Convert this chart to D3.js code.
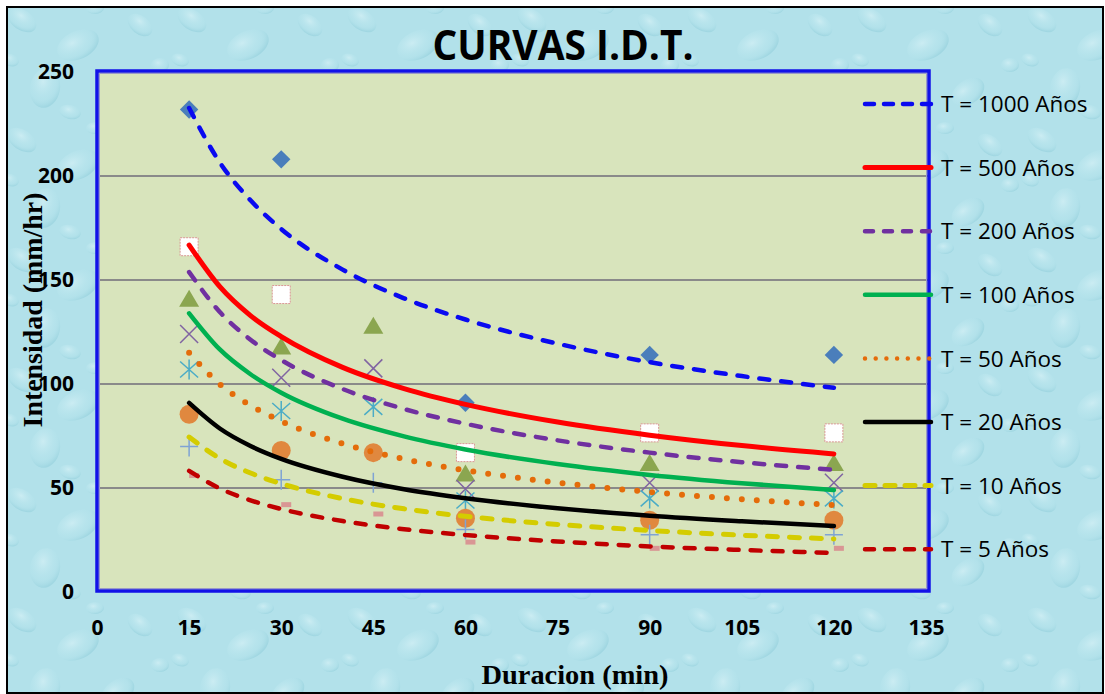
<!DOCTYPE html>
<html>
<head>
<meta charset="utf-8">
<script src="https://cdn.jsdelivr.net/npm/d3@7"></script>
<style>
  body { margin: 0; background: #fff; }
</style>
</head>
<body>
<script>
'use strict';

// measured durations (min)
const duraciones = [15, 30, 45, 60, 90, 120];

// measured intensities (mm/hr), one array per return period
const ptsT1000 = [232, 208, null, 91, 114, 114];
const ptsT500 = [166, 143, null, 67, 76.5, 76.5];
const ptsT200 = [141, 118, 128, 57, 62, 62];
const ptsT100 = [124, 103, 107.5, 49.5, 52.5, 52.5];
const ptsT50 = [107, 87, 89, 44, 45, 45];
const ptsT20 = [85.5, 68, 67, 35.5, 34.5, 34.5];
const ptsT10 = [70, 54, 52.5, 30, 27.5, 27.5];
const ptsT5 = [56, 42, 37.5, 24, 21, 21];

// trendline readings (mm/hr) at these durations
const curvaDur = [15, 20, 25, 30, 40, 50, 60, 75, 90, 105, 120];
const curT1000 = [232.7, 206.5, 188.3, 174.5, 155, 141.2, 131, 119.4, 110.5, 103.8, 98.2];
const curT500 = [166.8, 146.8, 132.9, 122.8, 108, 97.8, 90.2, 81.7, 75.4, 70.4, 66.4];
const curT200 = [153.8, 134.6, 121.3, 111.5, 97.6, 88, 80.9, 72.9, 67, 62.4, 58.7];
const curT100 = [134, 116.6, 104.7, 95.8, 83.3, 74.8, 68.5, 61.5, 56.3, 52.3, 49];
const curT50 = [115, 99.9, 89.7, 82.1, 71.3, 63.9, 58.5, 52.6, 48.1, 44.6, 41.8];
const curT20 = [90.9, 78.6, 70.2, 64, 55.4, 49.4, 45.1, 40.3, 36.7, 34, 31.7];
const curT10 = [74.5, 64.2, 57.2, 52.1, 44.9, 40, 36.4, 32.5, 29.6, 27.3, 25.5];
const curT5 = [58.2, 49.8, 44.1, 39.9, 34.1, 30.2, 27.4, 24.3, 21.9, 20.2, 18.8];

const legendNames = ['T = 1000 Años', 'T = 500 Años', 'T = 200 Años', 'T = 100 Años',
  'T = 50 Años', 'T = 20 Años', 'T = 10 Años', 'T = 5 Años'];
const xTicks = [0, 15, 30, 45, 60, 75, 90, 105, 120, 135];
const yTicks = [0, 50, 100, 150, 200, 250];

(function() {

  let svgContainer = "";

  // line styles for the trendlines
  const lineStyles = [
    { color: '#0a0af0', width: 4.5, dash: '10 12', legDash: '9 10' },
    { color: '#ff0000', width: 5, dash: null, legDash: null },
    { color: '#7030a0', width: 4.5, dash: '10 12', legDash: '8 11' },
    { color: '#00b050', width: 4.5, dash: null, legDash: null },
    { color: '#e46c0a', width: 6, dash: '0 15', legDash: '0 10.7', dot: true },
    { color: '#000000', width: 4.5, dash: null, legDash: null },
    { color: '#d4cc00', width: 5, dash: '10 12', legDash: '10 10' },
    { color: '#c00000', width: 4.5, dash: '10 12', legDash: '9 11' }
  ];

  window.onload = function() {
    svgContainer = d3.select('body')
      .append('svg')
      .attr('width', 1105)
      .attr('height', 694);

    drawBackground();
    let map = drawAxes();
    plotPoints(map);
    plotCurves(map);
    drawLegend();
    makeLabels();
  }

  // water-drop texture behind the chart
  function drawBackground() {
    let defs = svgContainer.append('defs');
    let grad = defs.append('radialGradient')
      .attr('id', 'drop')
      .attr('cx', '40%').attr('cy', '35%').attr('r', '65%');
    grad.append('stop').attr('offset', '0%').attr('stop-color', '#dcf4f8').attr('stop-opacity', 0.6);
    grad.append('stop').attr('offset', '70%').attr('stop-color', '#b8e6ee').attr('stop-opacity', 0.2);
    grad.append('stop').attr('offset', '100%').attr('stop-color', '#8ccbd8').attr('stop-opacity', 0.45);

    let pat = defs.append('pattern')
      .attr('id', 'water')
      .attr('patternUnits', 'userSpaceOnUse')
      .attr('width', 170).attr('height', 120);
    pat.append('rect').attr('width', 170).attr('height', 120).attr('fill', '#b2e1ea');
    const drops = [[22, 20, 16, 10, 35], [78, 45, 22, 14, -25], [140, 25, 14, 9, 40],
      [45, 88, 15, 20, 10], [118, 92, 18, 12, -35], [160, 65, 9, 7, 0], [10, 60, 9, 6, 20],
      [95, 8, 9, 6, 0], [70, 112, 11, 7, 15]];
    drops.forEach(function(d) {
      pat.append('ellipse')
        .attr('cx', d[0]).attr('cy', d[1]).attr('rx', d[2]).attr('ry', d[3])
        .attr('transform', 'rotate(' + d[4] + ',' + d[0] + ',' + d[1] + ')')
        .attr('fill', 'url(#drop)');
    });

    svgContainer.append('rect')
      .attr('x', 7).attr('y', 7)
      .attr('width', 1096).attr('height', 686)
      .attr('fill', 'url(#water)')
      .attr('stroke', '#000')
      .attr('stroke-width', 2);
  }

  // plot area, grid and ticks
  function drawAxes() {
    let xScale = d3.scaleLinear().domain([0, 135]).range([97, 926]);
    let yScale = d3.scaleLinear().domain([0, 250]).range([592, 72]);

    svgContainer.append('rect')
      .attr('x', 97).attr('y', 71)
      .attr('width', 832).attr('height', 520)
      .attr('fill', '#d8e4bc');

    svgContainer.append('g')
      .selectAll('line')
      .data(yTicks.filter(v => v > 0 && v < 250))
      .enter()
      .append('line')
      .attr('x1', 99).attr('x2', 928)
      .attr('y1', d => yScale(d)).attr('y2', d => yScale(d))
      .attr('stroke', '#8a8a8a')
      .attr('stroke-width', 2);

    // border of the plot area
    svgContainer.append('rect')
      .attr('x', 97).attr('y', 71)
      .attr('width', 832).attr('height', 520)
      .attr('fill', 'none')
      .attr('stroke', '#1212e8')
      .attr('stroke-width', 3.5);
    svgContainer.append('rect')
      .attr('x', 99.5).attr('y', 73.5)
      .attr('width', 827).attr('height', 515)
      .attr('fill', 'none')
      .attr('stroke', '#9a9ac8')
      .attr('stroke-width', 1);

    let xAxis = d3.axisBottom(xScale).tickValues(xTicks).tickSize(0).tickPadding(0);
    let gx = svgContainer.append('g')
      .attr('transform', 'translate(0, 628)')
      .call(xAxis);
    gx.select('.domain').remove();
    gx.selectAll('text')
      .attr('dy', '0.35em')
      .style('font-family', '"Open Sans", sans-serif')
      .style('font-weight', 'bold')
      .style('font-size', '21px')
      .attr('fill', '#000');

    let yAxis = d3.axisLeft(yScale).tickValues(yTicks).tickSize(0).tickPadding(0);
    let gy = svgContainer.append('g')
      .attr('transform', 'translate(74, 0)')
      .call(yAxis);
    gy.select('.domain').remove();
    gy.selectAll('text')
      .style('font-family', '"Open Sans", sans-serif')
      .style('font-weight', 'bold')
      .style('font-size', '21px')
      .attr('fill', '#000');

    return { x: xScale, y: yScale };
  }

  // measured points with Excel-like markers
  function plotPoints(map) {
    const series = [
      { values: ptsT1000, shape: 'diamond' },
      { values: ptsT500, shape: 'square' },
      { values: ptsT200, shape: 'triangle' },
      { values: ptsT100, shape: 'x' },
      { values: ptsT50, shape: 'star' },
      { values: ptsT20, shape: 'circle' },
      { values: ptsT10, shape: 'plus' },
      { values: ptsT5, shape: 'dash' }
    ];

    series.forEach(function(s) {
      let pts = duraciones.map((d, i) => ({ d: d, v: s.values[i] }))
        .filter(p => p.v !== null);
      let g = svgContainer.append('g');
      let marks = g.selectAll('g')
        .data(pts)
        .enter()
        .append('g')
        .attr('transform', p => 'translate(' + map.x(p.d) + ',' + map.y(p.v) + ')');

      if (s.shape == 'diamond') {
        marks.append('path')
          .attr('d', d3.symbol(d3.symbolSquare, 170)())
          .attr('transform', 'rotate(45)')
          .attr('fill', '#4a7ebb');
      } else if (s.shape == 'square') {
        marks.append('rect')
          .attr('x', -9).attr('y', -9).attr('width', 18).attr('height', 18)
          .attr('fill', '#fff')
          .attr('stroke', '#d99694')
          .attr('stroke-dasharray', '2 1')
          .attr('stroke-width', 1);
      } else if (s.shape == 'triangle') {
        marks.append('path')
          .attr('d', 'M0,-9L10,8L-10,8Z')
          .attr('fill', '#8ba650');
      } else if (s.shape == 'x') {
        marks.append('path')
          .attr('d', 'M-9,-9L9,9M-9,9L9,-9')
          .attr('stroke', '#8064a2')
          .attr('stroke-width', 1.5);
      } else if (s.shape == 'star') {
        marks.append('path')
          .attr('d', 'M-9,-8L9,8M-9,8L9,-8M0,-10L0,10')
          .attr('stroke', '#4bacc6')
          .attr('stroke-width', 1.5);
      } else if (s.shape == 'circle') {
        marks.append('circle')
          .attr('r', 9.5)
          .attr('fill', '#e0883f');
      } else if (s.shape == 'plus') {
        marks.append('path')
          .attr('d', 'M-9,0L9,0M0,-10L0,10')
          .attr('stroke', '#7fa3d4')
          .attr('stroke-width', 1.5);
      } else {
        marks.append('rect')
          .attr('x', 0).attr('y', -2.5).attr('width', 10).attr('height', 5)
          .attr('fill', '#d99694');
      }
    });
  }

  // fitted curves on top of the points
  function plotCurves(map) {
    const curves = [curT1000, curT500, curT200, curT100, curT50, curT20, curT10, curT5];
    let line = d3.line()
      .x(p => map.x(p[0]))
      .y(p => map.y(p[1]))
      .curve(d3.curveMonotoneX);

    curves.forEach(function(c, i) {
      let st = lineStyles[i];
      svgContainer.append('path')
        .datum(curvaDur.map((d, j) => [d, c[j]]))
        .attr('d', line)
        .attr('fill', 'none')
        .attr('stroke', st.color)
        .attr('stroke-width', st.width)
        .attr('stroke-linecap', 'round')
        .attr('stroke-dasharray', st.dash);
    });
  }

  function drawLegend() {
    let leg = svgContainer.append('g');
    let items = leg.selectAll('g')
      .data(legendNames)
      .enter()
      .append('g')
      .attr('transform', (d, i) => 'translate(0,' + (104 + i * 63.6) + ')');

    items.append('line')
      .attr('x1', 865).attr('x2', 931)
      .attr('stroke', (d, i) => lineStyles[i].color)
      .attr('stroke-width', (d, i) => lineStyles[i].dot ? 4.5 : lineStyles[i].width)
      .attr('stroke-linecap', 'round')
      .attr('stroke-dasharray', (d, i) => lineStyles[i].legDash);

    items.append('text')
      .attr('x', 941)
      .attr('dy', '0.36em')
      .style('font-family', '"Open Sans", sans-serif')
      .style('font-size', '22.5px')
      .text(d => d);
  }

  // title and axis titles
  function makeLabels() {
    svgContainer.append('text')
      .attr('x', 563)
      .attr('y', 60)
      .attr('text-anchor', 'middle')
      .attr('textLength', 261)
      .attr('lengthAdjust', 'spacingAndGlyphs')
      .style('font-family', '"Open Sans", sans-serif')
      .style('font-weight', 'bold')
      .style('font-size', '41px')
      .text('CURVAS I.D.T.');

    svgContainer.append('text')
      .attr('x', 575)
      .attr('y', 684)
      .attr('text-anchor', 'middle')
      .attr('textLength', 187)
      .attr('lengthAdjust', 'spacingAndGlyphs')
      .style('font-family', '"Liberation Serif", serif')
      .style('font-weight', 'bold')
      .style('font-size', '28px')
      .text('Duracion (min)');

    svgContainer.append('text')
      .attr('transform', 'translate(42, 310)rotate(-90)')
      .attr('text-anchor', 'middle')
      .attr('textLength', 235)
      .attr('lengthAdjust', 'spacingAndGlyphs')
      .style('font-family', '"Liberation Serif", serif')
      .style('font-weight', 'bold')
      .style('font-size', '27px')
      .text('Intensidad (mm/hr)');
  }

})();
</script>
</body>
</html>
